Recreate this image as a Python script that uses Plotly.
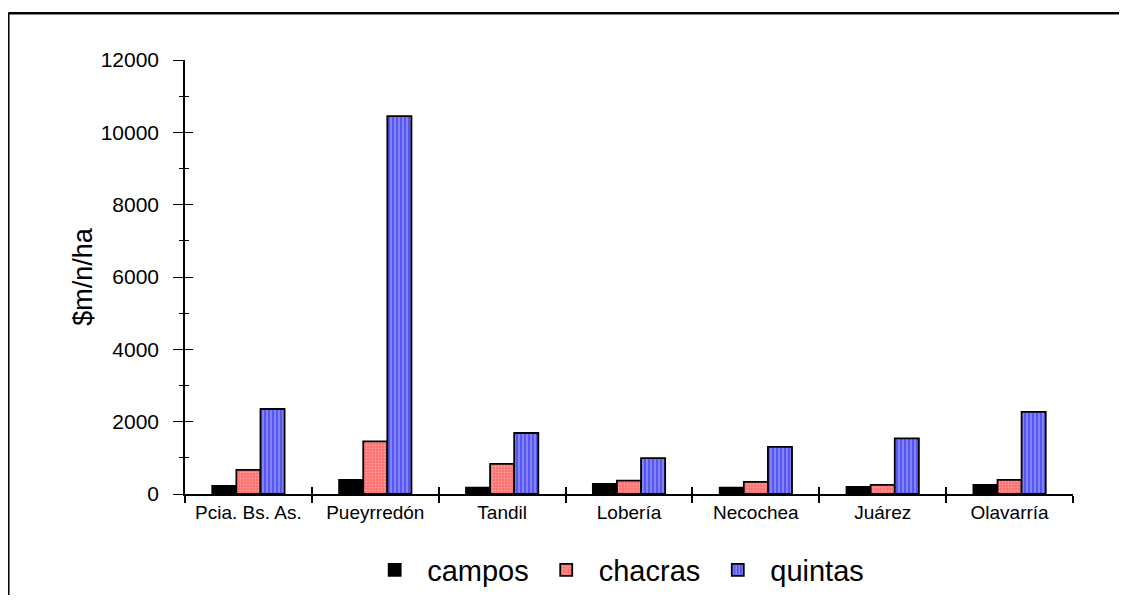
import plotly.graph_objects as go

categories = ["Pcia. Bs. As.", "Pueyrredón", "Tandil", "Lobería", "Necochea", "Juárez", "Olavarría"]
campos = [222, 389, 175, 278, 175, 194, 250]
chacras = [667, 1453, 833, 370, 333, 250, 389]
quintas = [2350, 10450, 1686, 991, 1305, 1536, 2269]
y_ticks = [0, 2000, 4000, 6000, 8000, 10000, 12000]
y_tick_text = [str(v) for v in y_ticks]

FONT = "Arial, Liberation Sans, sans-serif"

fig = go.Figure()
fig.add_trace(go.Bar(
    name="campos", x=categories, y=campos,
    marker=dict(color="#000000", line=dict(color="#000000", width=1.8)),
))
fig.add_trace(go.Bar(
    name="chacras", x=categories, y=chacras,
    marker=dict(color="#ff7a7a", line=dict(color="#000000", width=1.8),
                pattern=dict(shape=".", fgcolor="#ffd0d0", bgcolor="#ff6f6f", size=3, solidity=0.3)),
))
fig.add_trace(go.Bar(
    name="quintas", x=categories, y=quintas,
    marker=dict(color="#6f6fff", line=dict(color="#000000", width=1.8),
                pattern=dict(shape="|", fgcolor="#d8d8ff", bgcolor="#5555f0", size=4, solidity=0.35)),
))
# invisible helper trace for the inner half of the crossing ticks
fig.add_trace(go.Scatter(
    x=categories, y=[None] * len(categories), xaxis="x2", yaxis="y2",
    showlegend=False, hoverinfo="skip", mode="markers",
))

fig.update_layout(
    width=1111, height=587,
    margin=dict(l=177, r=46, t=52, b=101, autoexpand=False),
    paper_bgcolor="white", plot_bgcolor="white",
    barmode="group", bargap=0.43, bargroupgap=0,
    font=dict(family=FONT, color="black", size=19),
    showlegend=True,
    legend=dict(orientation="h", x=0.485, xanchor="center", y=-0.175, yanchor="middle",
                font=dict(size=29, family=FONT), itemwidth=55, traceorder="normal"),
    xaxis=dict(
        type="category", categoryarray=categories, range=[-0.5, 6.5],
        showline=True, linecolor="black", linewidth=1.5,
        ticks="outside", tickson="boundaries", ticklen=7, tickwidth=1.5, tickcolor="black",
        showgrid=False, zeroline=False,
        tickfont=dict(size=19, family=FONT),
    ),
    xaxis2=dict(
        type="category", categoryarray=categories, range=[-0.5, 6.5],
        overlaying="x", anchor="y2", showline=False,
        ticks="inside", tickson="boundaries", ticklen=7, tickwidth=1.5, tickcolor="black",
        showticklabels=False, showgrid=False, zeroline=False,
    ),
    yaxis=dict(
        range=[0, 12000], tickvals=y_ticks, ticktext=y_tick_text,
        showline=True, linecolor="black", linewidth=1.5,
        ticks="outside", ticklen=10, tickwidth=1.2, tickcolor="black",
        minor=dict(dtick=1000, ticks="outside", ticklen=4, tickwidth=1, tickcolor="black", showgrid=False),
        showgrid=False, zeroline=False, automargin=True,
        tickfont=dict(size=21, family=FONT), ticklabelstandoff=10,
        title=dict(text="$m/n/ha", font=dict(size=27, family=FONT), standoff=0),
    ),
    yaxis2=dict(
        range=[0, 12000], tickvals=y_ticks, overlaying="y", anchor="x2", side="left",
        showline=False,
        ticks="inside", ticklen=8, tickwidth=1.2, tickcolor="black",
        minor=dict(dtick=1000, ticks="inside", ticklen=4, tickwidth=1, tickcolor="black", showgrid=False),
        showticklabels=False, showgrid=False, zeroline=False,
    ),
    shapes=[
        dict(type="line", xref="paper", yref="paper", x0=-0.199, x1=1.1, y0=1.108, y1=1.108,
             line=dict(color="black", width=2.5)),
        dict(type="line", xref="paper", yref="paper", x0=-0.199, x1=-0.199, y0=1.108, y1=-0.3,
             line=dict(color="black", width=2.5)),
    ],
)

fig.write_html("out.html")
